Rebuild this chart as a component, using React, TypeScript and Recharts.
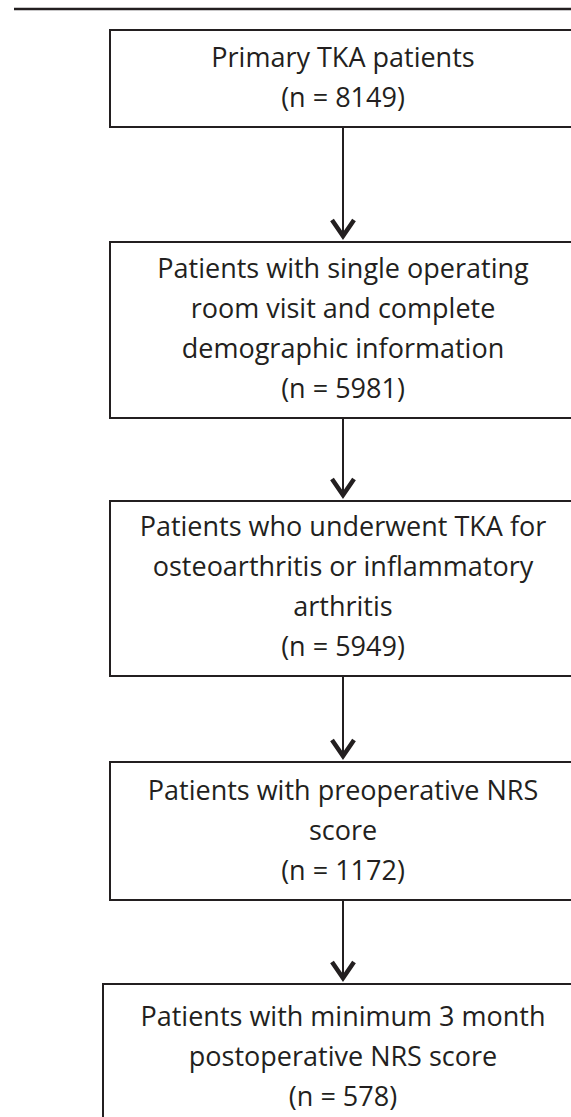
import { ComposedChart, XAxis, YAxis, Scatter, ReferenceArea, ReferenceLine } from 'recharts'

// flowchart content
const STAGE_LINES = [
  ['Primary TKA patients'],
  ['Patients with single operating', 'room visit and complete', 'demographic information'],
  ['Patients who underwent TKA for', 'osteoarthritis or inflammatory', 'arthritis'],
  ['Patients with preoperative NRS', 'score'],
  ['Patients with minimum 3 month', 'postoperative NRS score'],
]
const STAGE_COUNTS = [8149, 5981, 5949, 1172, 578]

// layout in chart units (1 unit = 1px)
const W = 571
const H = 1117
const CENTER_X = 343
const BOX_TOP = [30, 242, 501, 762, 984]
const BOX_BOTTOM = [127, 418, 676, 900, 1160]
const BOX_LEFT = [110, 110, 110, 110, 103]
const BOX_RIGHT = [576, 576, 576, 576, 583]
const FIRST_BASELINE = [37, 36, 35, 38, 42]
const LINE_GAP = 40
const INK = '#231f20'

const textPoints = STAGE_LINES.flatMap((lines, i) =>
  [...lines, `(n = ${STAGE_COUNTS[i]})`].map((text, j) => ({
    x: CENTER_X,
    y: BOX_TOP[i] + FIRST_BASELINE[i] + j * LINE_GAP,
    text,
  }))
)

const arrowTips = BOX_TOP.slice(1).map((top) => ({ x: CENTER_X, y: top - 4 }))

const TextShape = (props: any) => (
  <text
    x={props.cx}
    y={props.cy}
    textAnchor="middle"
    fontFamily="'Open Sans', 'Noto Sans', sans-serif"
    fontSize={27}
    fill={INK}
    style={{ fontVariantLigatures: 'none' }}
  >
    {props.payload.text}
  </text>
)

const ChevronShape = (props: any) => {
  const { cx, cy } = props
  return (
    <polyline
      points={`${cx - 11},${cy - 18} ${cx},${cy - 2} ${cx + 11},${cy - 18}`}
      fill="none"
      stroke={INK}
      strokeWidth={4.5}
      strokeLinejoin="miter"
    />
  )
}

export default function App() {
  return (
    <div style={{ width: W, height: H, background: '#fff' }}>
      <style>{'body{margin:0;overflow:hidden}'}</style>
      <ComposedChart width={W} height={H} margin={{ top: 0, right: 0, bottom: 0, left: 0 }}>
        <XAxis type="number" dataKey="x" domain={[0, W]} hide />
        <YAxis type="number" dataKey="y" domain={[0, H]} reversed hide />
        <ReferenceLine
          segment={[{ x: 14, y: 9 }, { x: W, y: 9 }]}
          stroke={INK}
          strokeWidth={2.5}
          ifOverflow="visible"
        />
        {BOX_TOP.map((top, i) => (
          <ReferenceArea
            key={`box-${i}`}
            x1={BOX_LEFT[i]}
            x2={BOX_RIGHT[i]}
            y1={top}
            y2={BOX_BOTTOM[i]}
            fill="none"
            stroke={INK}
            strokeWidth={2}
            ifOverflow="visible"
          />
        ))}
        {arrowTips.map((tip, i) => (
          <ReferenceLine
            key={`shaft-${i}`}
            segment={[{ x: CENTER_X, y: BOX_BOTTOM[i] }, { x: CENTER_X, y: tip.y - 3 }]}
            stroke={INK}
            strokeWidth={2}
            ifOverflow="visible"
          />
        ))}
        <Scatter data={arrowTips} shape={<ChevronShape />} isAnimationActive={false} />
        <Scatter data={textPoints} shape={<TextShape />} isAnimationActive={false} />
      </ComposedChart>
    </div>
  )
}
